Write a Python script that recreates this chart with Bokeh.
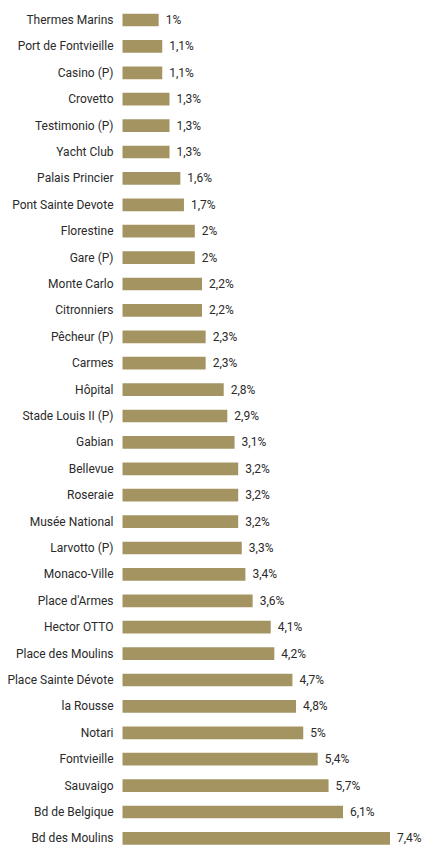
from bokeh.plotting import figure
from bokeh.models import ColumnDataSource, Range1d
from bokeh.core.properties import value
from bokeh.embed import file_html
from bokeh.resources import INLINE

categories = ["Thermes Marins", "Port de Fontvieille", "Casino (P)", "Crovetto",
              "Testimonio (P)", "Yacht Club", "Palais Princier", "Pont Sainte Devote",
              "Florestine", "Gare (P)", "Monte Carlo", "Citronniers", "Pêcheur (P)",
              "Carmes", "Hôpital", "Stade Louis II (P)", "Gabian", "Bellevue",
              "Roseraie", "Musée National", "Larvotto (P)", "Monaco-Ville",
              "Place d'Armes", "Hector OTTO", "Place des Moulins", "Place Sainte Dévote",
              "la Rousse", "Notari", "Fontvieille", "Sauvaigo", "Bd de Belgique",
              "Bd des Moulins"]
values = [1, 1.1, 1.1, 1.3, 1.3, 1.3, 1.6, 1.7, 2, 2, 2.2, 2.2, 2.3, 2.3, 2.8, 2.9,
          3.1, 3.2, 3.2, 3.2, 3.3, 3.4, 3.6, 4.1, 4.2, 4.7, 4.8, 5, 5.4, 5.7, 6.1, 7.4]

labels = [("%g" % v).replace(".", ",") + "%" for v in values]
pos = list(range(len(categories)))

src = ColumnDataSource(dict(y=pos, v=values, cat=categories, lab=labels,
                            zero=[0] * len(values)))

W, H = 426, 845
px_per_unit = 36.15
x_start = -122 / px_per_unit
row_px = 26.4
y_end = -19.5 / row_px
y_start = y_end + H / row_px

p = figure(width=W, height=H, output_backend="svg", toolbar_location=None,
           x_range=Range1d(x_start, x_start + W / px_per_unit),
           y_range=Range1d(y_start, y_end), min_border=0)
p.axis.visible = False
p.xgrid.visible = False
p.ygrid.visible = False
p.outline_line_color = None
p.background_fill_color = "white"
p.border_fill_color = "white"

p.hbar(y="y", left=0, right="v", height=0.48, source=src,
       fill_color="#a39462", line_color=None)

font = value("Roboto")
p.text(x="zero", y="y", text="cat", source=src, x_offset=-9,
       text_align="right", text_baseline="middle", text_font=font,
       text_font_size="12px", text_color="#2a2a2a")
p.text(x="v", y="y", text="lab", source=src, x_offset=7,
       text_align="left", text_baseline="middle", text_font=font,
       text_font_size="12px", text_color="#2a2a2a")

open("out.html", "w").write(file_html(p, INLINE))
